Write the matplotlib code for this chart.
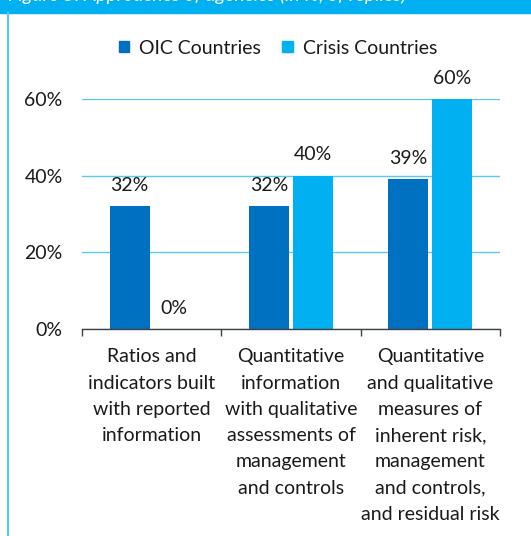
import matplotlib
matplotlib.use("Agg")
import matplotlib.pyplot as plt
from matplotlib.patches import Patch, Rectangle
from matplotlib.lines import Line2D
import numpy as np

plt.rcParams['font.family'] = ['Lato', 'DejaVu Sans']

categories = [
    "Ratios and\nindicators built\nwith reported\ninformation",
    "Quantitative\ninformation\nwith qualitative\nassessments of\nmanagement\nand controls",
    "Quantitative\nand qualitative\nmeasures of\ninherent risk,\nmanagement\nand controls,\nand residual risk",
]
series_names = ["OIC Countries", "Crisis Countries"]
oic_values = [0.32, 0.32, 0.39]
crisis_values = [0.0, 0.40, 0.60]
y_ticks = [0.0, 0.2, 0.4, 0.6]
y_tick_labels = ["0%", "20%", "40%", "60%"]
title_text = "Figure 5: Approaches of agencies (in %, of replies)"

c_oic = "#0070C0"
c_crisis = "#00B0F0"
grid_c = "#5CC8F2"
txt_c = "#1a1a1a"

W, H = 531, 536
fig = plt.figure(figsize=(W / 100, H / 100), dpi=100)

# top band and left border
fig.patches.append(Rectangle((0, 1 - 13 / H), 1, 13 / H, transform=fig.transFigure,
                             color=c_crisis, zorder=0))
fig.lines.append(Line2D([7.5 / W, 7.5 / W], [0, 1 - 13 / H], transform=fig.transFigure,
                        color=grid_c, lw=1.5))
fig.text(8 / W, 1 - 1.5 / H, title_text, color="white", fontsize=14, fontstyle="italic",
         va="baseline", ha="left")

ax = fig.add_axes([82 / W, 1 - 329 / H, (500 - 82) / W, (329 - 99) / H])
x = np.arange(len(categories))
bw = 0.285
off = 0.158
b1 = ax.bar(x - off, oic_values, bw, color=c_oic, zorder=3)
b2 = ax.bar(x + off, crisis_values, bw, color=c_crisis, zorder=3)

for bars, vals in ((b1, oic_values), (b2, crisis_values)):
    for r, v in zip(bars, vals):
        ax.annotate(f"{round(v * 100):d}%", (r.get_x() + r.get_width() / 2, v),
                    xytext=(0, 9), textcoords="offset points", ha="center", va="bottom",
                    fontsize=14, color=txt_c)

ax.set_xlim(-0.5, 2.5)
ax.set_ylim(0, 0.6)
ax.set_yticks(y_ticks)
ax.set_yticklabels(y_tick_labels)
ax.yaxis.grid(True, color=grid_c, lw=1.0, zorder=0)
ax.set_axisbelow(True)
for s in ("top", "right", "left"):
    ax.spines[s].set_visible(False)
ax.spines["bottom"].set_color("#404040")
ax.spines["bottom"].set_linewidth(1.0)
ax.spines["bottom"].set_zorder(4)
ax.tick_params(axis="y", length=0, pad=14, labelsize=14, labelcolor=txt_c)
ax.set_xticks(x)
ax.set_xticklabels(categories, fontsize=14, color=txt_c, linespacing=1.66, va="top")
ax.tick_params(axis="x", which="major", length=0, pad=14)
ax.set_xticks([-0.5, 0.5, 1.5, 2.5], minor=True)
ax.tick_params(axis="x", which="minor", length=5, color="#404040", width=1)

handles = [Patch(color=c_oic), Patch(color=c_crisis)]
fig.legend(handles, series_names, loc="center", bbox_to_anchor=(278 / W, 1 - 48 / H),
           ncol=2, frameon=False, fontsize=14, handlelength=0.55, handleheight=0.55,
           handletextpad=0.5, columnspacing=1.1, labelcolor=txt_c)

fig.savefig("out.png", dpi=100)
